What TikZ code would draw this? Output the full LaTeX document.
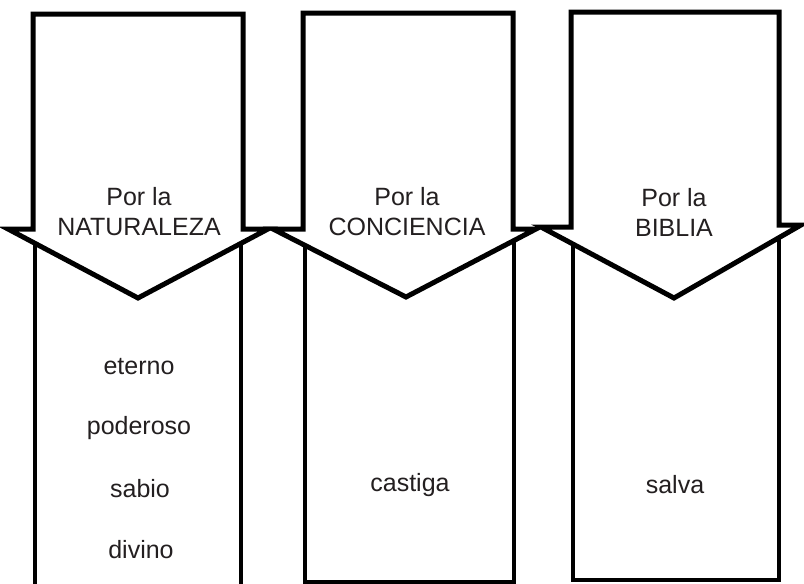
\documentclass[tikz,border=0pt]{standalone}
\usepackage{fontspec}
\setmainfont{Liberation Sans}
\definecolor{ink}{HTML}{231F20}
\begin{document}
\begin{tikzpicture}[x=1pt,y=-1pt,
  arrowshape/.style={draw=black,line width=5pt,fill=white,line join=miter},
  boxshape/.style={draw=black,line width=3.5pt},
  head/.style={font=\fontsize{25}{30}\selectfont,text=ink,align=center,inner sep=0pt},
  item/.style={font=\fontsize{25}{30}\selectfont,text=ink,inner sep=0pt}]
\useasboundingbox (0,0) rectangle (804,584);
\clip (0,0) rectangle (804,584);
% boxes
\draw[boxshape] (35,240) -- (35,600) (241,240) -- (241,600);
\draw[boxshape] (305,240) rectangle (514,582);
\draw[boxshape] (573,240) rectangle (779,580);
% arrows
\draw[arrowshape] (33,14) -- (243,14) -- (243,229) -- (268,229) -- (138,298) -- (8,229) -- (33,229) -- cycle;
\draw[arrowshape] (303,13) -- (513,13) -- (513,229) -- (536,229) -- (406,297) -- (273,229) -- (303,229) -- cycle;
\draw[arrowshape] (571,12) -- (779,12) -- (779,225) -- (801,225) -- (674,298) -- (541,227) -- (571,227) -- cycle;
% headings
\node[head] (h1) at (139,212) {Por la\\NATURALEZA};
\node[head] (h2) at (407,212) {Por la\\CONCIENCIA};
\node[head] (h3) at (674,212) {Por la\\BIBLIA};
% items
\node[item] (i1) at (139,367) {eterno};
\node[item] (i2) at (139,428) {poderoso};
\node[item] (i3) at (140,489) {sabio};
\node[item] (i4) at (141,550) {divino};
\node[item] (c1) at (410,485) {castiga};
\node[item] (s1) at (675,485) {salva};
\end{tikzpicture}
\end{document}
